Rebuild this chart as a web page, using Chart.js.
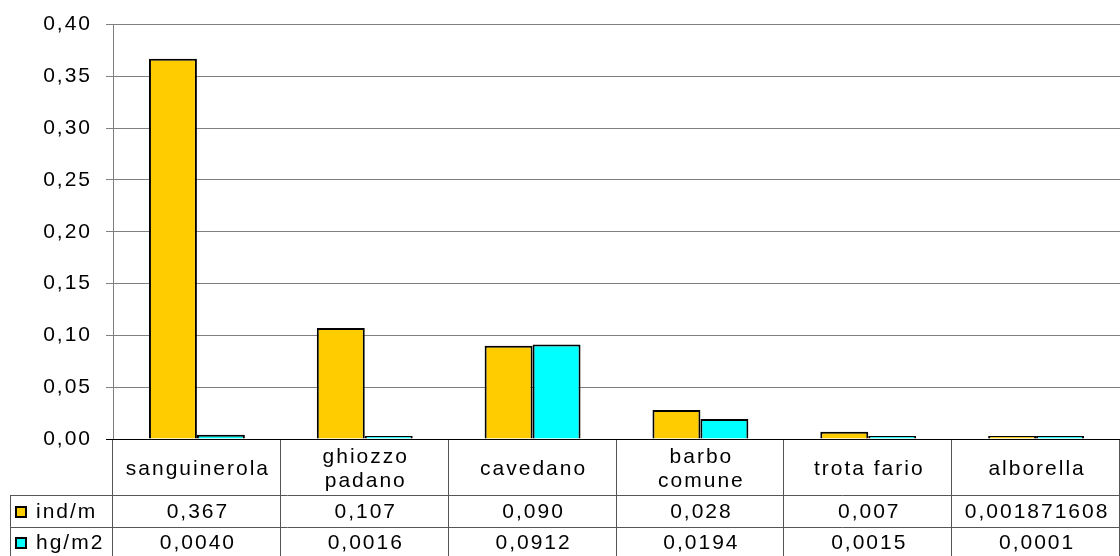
<!DOCTYPE html>
<html>
<head>
<meta charset="utf-8">
<script src="https://cdn.jsdelivr.net/npm/chart.js@4/dist/chart.umd.min.js"></script>
<style>
  html, body { margin: 0; padding: 0; background: #fff; }
  #wrap { width: 1120px; height: 556px; }
</style>
</head>
<body>
<div id="wrap"><canvas id="grafico" width="1120" height="556"></canvas></div>
<script>
// ---------- dati ----------
const CATEGORIE = [['sanguinerola'], ['ghiozzo', 'padano'], ['cavedano'], ['barbo', 'comune'], ['trota fario'], ['alborella']];
const IND_M = [0.367, 0.107, 0.090, 0.028, 0.007, 0.001871608];
const HG_M2 = [0.0040, 0.0016, 0.0912, 0.0194, 0.0015, 0.0001];
const IND_M_TESTO = ['0,367', '0,107', '0,090', '0,028', '0,007', '0,001871608'];
const HG_M2_TESTO = ['0,0040', '0,0016', '0,0912', '0,0194', '0,0015', '0,0001'];
const SERIE = ['ind/m', 'hg/m2'];
const Y_TICKS = [0, 0.05, 0.10, 0.15, 0.20, 0.25, 0.30, 0.35, 0.40];

const FONT = '"Liberation Sans", Arial, sans-serif';
const SPAZIO = '2px';
const COLORI = ['#FFCC00', '#00FFFF'];

// spaziatura lettere tipo Excel
const spacing = {
  id: 'spacing',
  beforeLayout: (chart) => { chart.ctx.letterSpacing = SPAZIO; },
  beforeDraw: (chart) => { chart.ctx.letterSpacing = SPAZIO; }
};

// tabella dati sotto il grafico
const tabella = {
  id: 'tabella',
  afterDraw(chart) {
    const { ctx, chartArea: a } = chart;
    const xs = chart.scales.x;
    const n = CATEGORIE.length;
    const w = (a.right - a.left) / n;
    const top = Math.round(a.bottom);
    const r1 = top + 56, r2 = r1 + 32, H = chart.height;
    ctx.save();
    ctx.letterSpacing = SPAZIO;
    ctx.lineWidth = 1;
    ctx.strokeStyle = '#555';
    ctx.beginPath();
    for (let i = 0; i <= n; i++) {
      const x = Math.round(a.left + i * w) - 0.5;
      ctx.moveTo(x, top); ctx.lineTo(x, H);
    }
    ctx.moveTo(10.5, r1); ctx.lineTo(10.5, H);
    ctx.moveTo(10, r1 + 0.5); ctx.lineTo(a.right, r1 + 0.5);
    ctx.moveTo(10, r2 + 0.5); ctx.lineTo(a.right, r2 + 0.5);
    ctx.stroke();
    // linea base
    ctx.strokeStyle = '#000';
    ctx.beginPath();
    ctx.moveTo(a.left - 7, top + 0.5); ctx.lineTo(a.right, top + 0.5);
    ctx.stroke();

    ctx.fillStyle = '#000';
    ctx.font = '21px ' + FONT;
    ctx.textAlign = 'center';
    ctx.textBaseline = 'middle';
    CATEGORIE.forEach((lines, i) => {
      const cx = xs.getPixelForValue(i) + 1;
      if (lines.length === 1) ctx.fillText(lines[0], cx, top + 30);
      else { ctx.fillText(lines[0], cx, top + 18); ctx.fillText(lines[1], cx, top + 42); }
      ctx.fillText(IND_M_TESTO[i], cx, r1 + 17);
      ctx.fillText(HG_M2_TESTO[i], cx, r2 + 16);
    });
    // legenda
    ctx.textAlign = 'left';
    [[r1 + 17, 0], [r2 + 16, 1]].forEach(([y, k]) => {
      ctx.fillStyle = COLORI[k];
      ctx.fillRect(16, y - 5, 10, 10);
      ctx.strokeStyle = '#000';
      ctx.lineWidth = 2;
      ctx.strokeRect(16, y - 5, 10, 10);
      ctx.fillStyle = '#000';
      ctx.fillText(SERIE[k], 36, y);
    });
    ctx.restore();
  }
};

new Chart(document.getElementById('grafico'), {
  type: 'bar',
  data: {
    labels: CATEGORIE.map(l => l.join(' ')),
    datasets: [
      { label: SERIE[0], data: IND_M, backgroundColor: COLORI[0], borderColor: '#000', borderWidth: 2 },
      { label: SERIE[1], data: HG_M2, backgroundColor: COLORI[1], borderColor: '#000', borderWidth: 2 }
    ]
  },
  options: {
    responsive: false,
    animation: false,
    layout: { padding: { top: 23, right: 0, bottom: 117, left: 0 } },
    datasets: { bar: { categoryPercentage: 96 / 168, barPercentage: 1, minBarLength: 3 } },
    plugins: { legend: { display: false }, tooltip: { enabled: false } },
    scales: {
      x: {
        offset: true,
        afterFit: (s) => { s.height = 0; },
        ticks: { display: false },
        grid: { display: false },
        border: { display: false }
      },
      y: {
        min: 0, max: 0.4,
        afterBuildTicks: (s) => { s.ticks = Y_TICKS.map(v => ({ value: v })); },
        afterFit: (s) => { s.width = 113; },
        ticks: {
          padding: 14,
          color: '#000',
          font: { family: FONT, size: 21, lineHeight: 1 },
          callback: (v) => v.toFixed(2).replace('.', ',')
        },
        grid: { color: '#808080', tickLength: 7 },
        border: { color: '#808080' }
      }
    }
  },
  plugins: [spacing, tabella]
});
</script>
</body>
</html>
